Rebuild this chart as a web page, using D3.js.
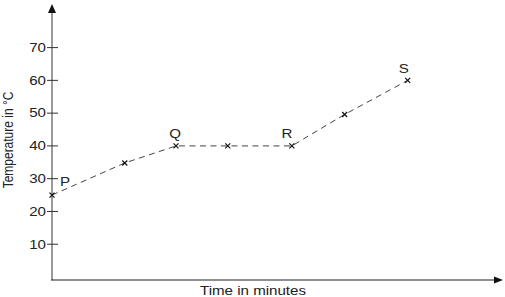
<!DOCTYPE html>
<html>
<head>
  <meta charset="UTF-8">
  <title>Temperature against time</title>
  <style>
    body { margin: 0; background: #fff; }
    text { font-family: "Liberation Sans", Arial, sans-serif; fill: #222; }
  </style>
</head>
<body>
  <svg id="chart" width="505" height="297"></svg>

  <script src="https://d3js.org/d3.v7.min.js"></script>
  <script>
    // readings (time in arbitrary minute units)
    var times = [0, 1.42, 2.42, 3.43, 4.68, 5.71, 6.94];
    var temps = [25, 34.8, 40, 40, 40, 49.6, 60];
    var pointLabels = ["P", "", "Q", "", "R", "", "S"];
    var yTicks = [10, 20, 30, 40, 50, 60, 70];

    var svg = d3.select("#chart");
    var stretch = 1.26; // the picture's text is drawn a bit wide

    var x = d3.scaleLinear().domain([0, 8.8]).range([52, 503]);
    var y = d3.scaleLinear().domain([0, 70]).range([277, 47.6]);
    var axisY = 280;

    // y axis (grey, with arrow)
    svg.append("line")
      .attr("x1", x(0)).attr("x2", x(0))
      .attr("y1", axisY).attr("y2", 12)
      .attr("stroke", "#9a9a9a").attr("stroke-width", 2);
    svg.append("path")
      .attr("d", d3.line()([[x(0) - 4, 13], [x(0), 4], [x(0) + 4, 13]]))
      .attr("fill", "#111");

    // x axis (black, with arrow)
    svg.append("line")
      .attr("x1", x(0) - 1).attr("x2", 497)
      .attr("y1", axisY).attr("y2", axisY)
      .attr("stroke", "#222").attr("stroke-width", 1.2);
    svg.append("path")
      .attr("d", d3.line()([[494, axisY - 3.5], [503, axisY], [494, axisY + 3.5]]))
      .attr("fill", "#111");

    // y ticks
    var tick = svg.selectAll(".tick")
      .data(yTicks)
      .enter().append("g")
        .attr("class", "tick")
        .attr("transform", function(d) { return "translate(0," + y(d) + ")"; });

    tick.append("line")
      .attr("x1", x(0) - 5).attr("x2", x(0) + 6)
      .attr("stroke", "#333").attr("stroke-width", 1);

    tick.append("text")
      .attr("transform", "translate(46,4.3) scale(" + stretch + ",1)")
      .attr("text-anchor", "end")
      .style("font-size", "12px")
      .text(function(d) { return d; });

    // axis titles
    svg.append("text")
      .attr("transform", "translate(253,295) scale(" + stretch + ",1)")
      .attr("text-anchor", "middle")
      .style("font-size", "12px")
      .text("Time in minutes");

    svg.append("text")
      .attr("transform", "translate(12.5,140) rotate(-90) scale(1," + stretch + ")")
      .attr("text-anchor", "middle")
      .style("font-size", "12px")
      .text("Temperature in °C");

    // dashed line
    var pts = times.map(function(t, i) { return [x(t), y(temps[i])]; });

    svg.append("path")
      .attr("d", d3.line()(pts))
      .attr("fill", "none")
      .attr("stroke", "#444")
      .attr("stroke-width", 1)
      .attr("stroke-dasharray", "6,4.5");

    // crosses
    var s = 2.5;
    svg.selectAll(".cross")
      .data(pts)
      .enter().append("path")
        .attr("class", "cross")
        .attr("d", function(p) {
          return "M" + (p[0] - s) + "," + (p[1] - s) + "L" + (p[0] + s) + "," + (p[1] + s) +
                 "M" + (p[0] - s) + "," + (p[1] + s) + "L" + (p[0] + s) + "," + (p[1] - s);
        })
        .attr("stroke", "#111")
        .attr("stroke-width", 1.2);

    // point labels
    var labelOffsets = [[13, -9], [0, 0], [-1, -8], [0, 0], [-5, -8], [0, 0], [-4, -7]];
    svg.selectAll(".plabel")
      .data(pts)
      .enter().append("text")
        .attr("class", "plabel")
        .attr("transform", function(p, i) {
          return "translate(" + (p[0] + labelOffsets[i][0]) + "," + (p[1] + labelOffsets[i][1]) +
                 ") scale(" + stretch + ",1)";
        })
        .attr("text-anchor", "middle")
        .style("font-size", "12px")
        .text(function(p, i) { return pointLabels[i]; });
  </script>
</body>
</html>
